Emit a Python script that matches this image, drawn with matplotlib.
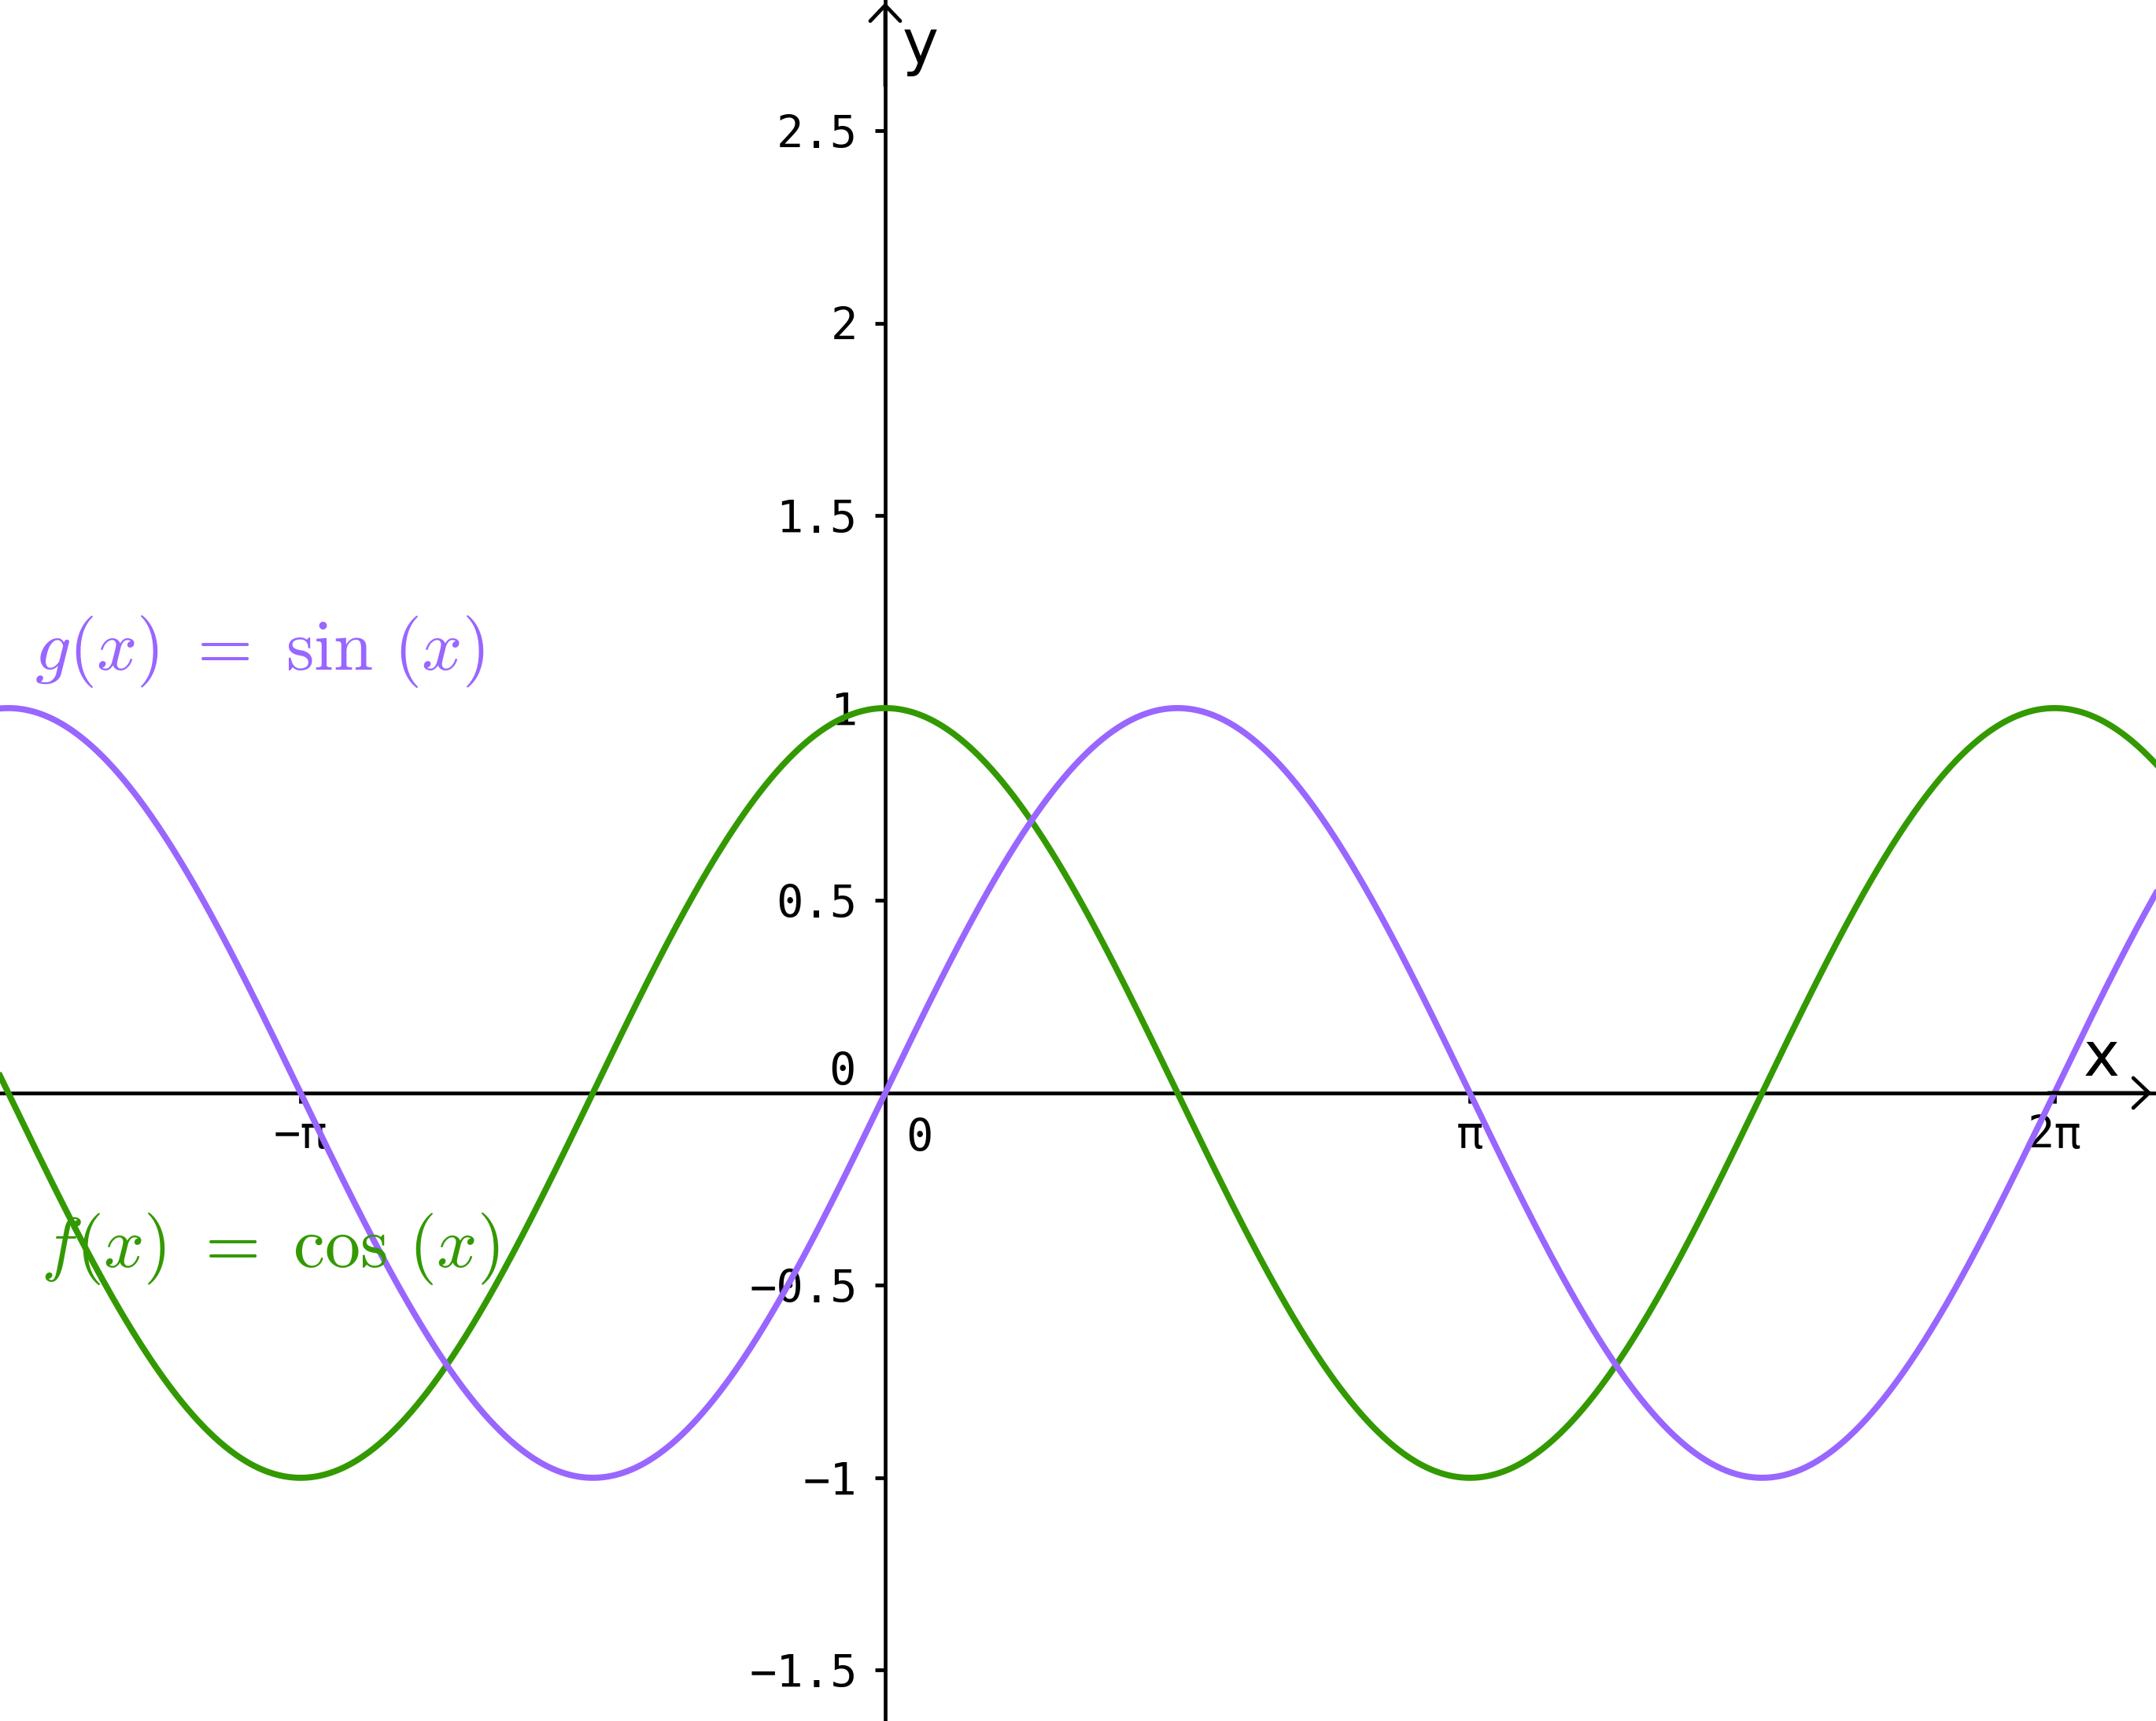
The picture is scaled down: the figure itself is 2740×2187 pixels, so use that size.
import matplotlib.pyplot as plt
import numpy as np

# curves: f(x) = cos(x), g(x) = sin(x)
x_min, x_max = -4.757, 6.829
y_min, y_max = -1.632, 2.840
x_vals = np.linspace(x_min, x_max, 1200)
f_vals = np.cos(x_vals)
g_vals = np.sin(x_vals)

# ticks
x_ticks = [-np.pi, np.pi, 2 * np.pi]
x_tick_labels = ['\u2212\u03c0', '\u03c0', '2\u03c0']
y_ticks = [-1.5, -1, -0.5, 0, 0.5, 1, 1.5, 2, 2.5]
y_tick_labels = ['\u22121.5', '\u22121', '\u22120.5', '', '0.5', '1', '1.5', '2', '2.5']

green = '#339900'
purple = '#9966ff'

fig = plt.figure(figsize=(13.7, 10.935), dpi=200)
ax = fig.add_axes([0, 0, 1, 1])

ax.plot(x_vals, f_vals, color=green, lw=2.8, zorder=3)
ax.plot(x_vals, g_vals, color=purple, lw=2.8, zorder=3)

ax.set_xlim(x_min, x_max)
ax.set_ylim(y_min, y_max)

# axes through the origin
for side in ['top', 'right']:
    ax.spines[side].set_visible(False)
ax.spines['left'].set_position(('data', 0))
ax.spines['bottom'].set_position(('data', 0))
ax.spines['left'].set_linewidth(1.7)
ax.spines['bottom'].set_linewidth(1.7)

ax.set_xticks(x_ticks)
ax.set_xticklabels(x_tick_labels, family='DejaVu Sans Mono', fontsize=20.5)
ax.set_yticks(y_ticks)
ax.set_yticklabels(y_tick_labels, family='DejaVu Sans Mono', fontsize=20.5)
ax.tick_params(axis='both', direction='out', length=4.7, width=1.7)
ax.tick_params(axis='x', pad=5)
ax.tick_params(axis='y', pad=8)

# zero labels
ax.annotate('0', xy=(0, 0), xytext=(-13.3, 3.6), textcoords='offset points',
            ha='right', va='baseline', family='DejaVu Sans Mono', fontsize=20.5)
ax.annotate('0', xy=(0, 0), xytext=(15.8, -26.6), textcoords='offset points',
            ha='center', va='baseline', family='DejaVu Sans Mono', fontsize=20.5)

# arrow heads
arrow = dict(arrowstyle='->,head_length=0.4,head_width=0.38', lw=1.7,
             color='black', mutation_scale=18, shrinkA=0, shrinkB=0)
ax.annotate('', xy=(0.998, 0), xytext=(0.95, 0),
            xycoords=('axes fraction', 'data'), textcoords=('axes fraction', 'data'),
            arrowprops=arrow)
ax.annotate('', xy=(0, 0.9985), xytext=(0, 0.95),
            xycoords=('data', 'axes fraction'), textcoords=('data', 'axes fraction'),
            arrowprops=arrow)

# axis names
ax.text(0.19, 2.72, 'y', fontsize=28, ha='center', va='center')
ax.text(6.535, 0.09, 'x', fontsize=28, ha='center', va='center')

# curve labels
plt.rcParams['mathtext.fontset'] = 'cm'
ax.text(-4.571, 1.147, r'$g(x)\ =\ \sin\,(x)$', color=purple, fontsize=32.5,
        ha='left', va='center')
ax.text(-4.537, -0.405, r'$f(x)\ =\ \cos\,(x)$', color=green, fontsize=32.5,
        ha='left', va='center')

plt.savefig('out.png', dpi=200)
